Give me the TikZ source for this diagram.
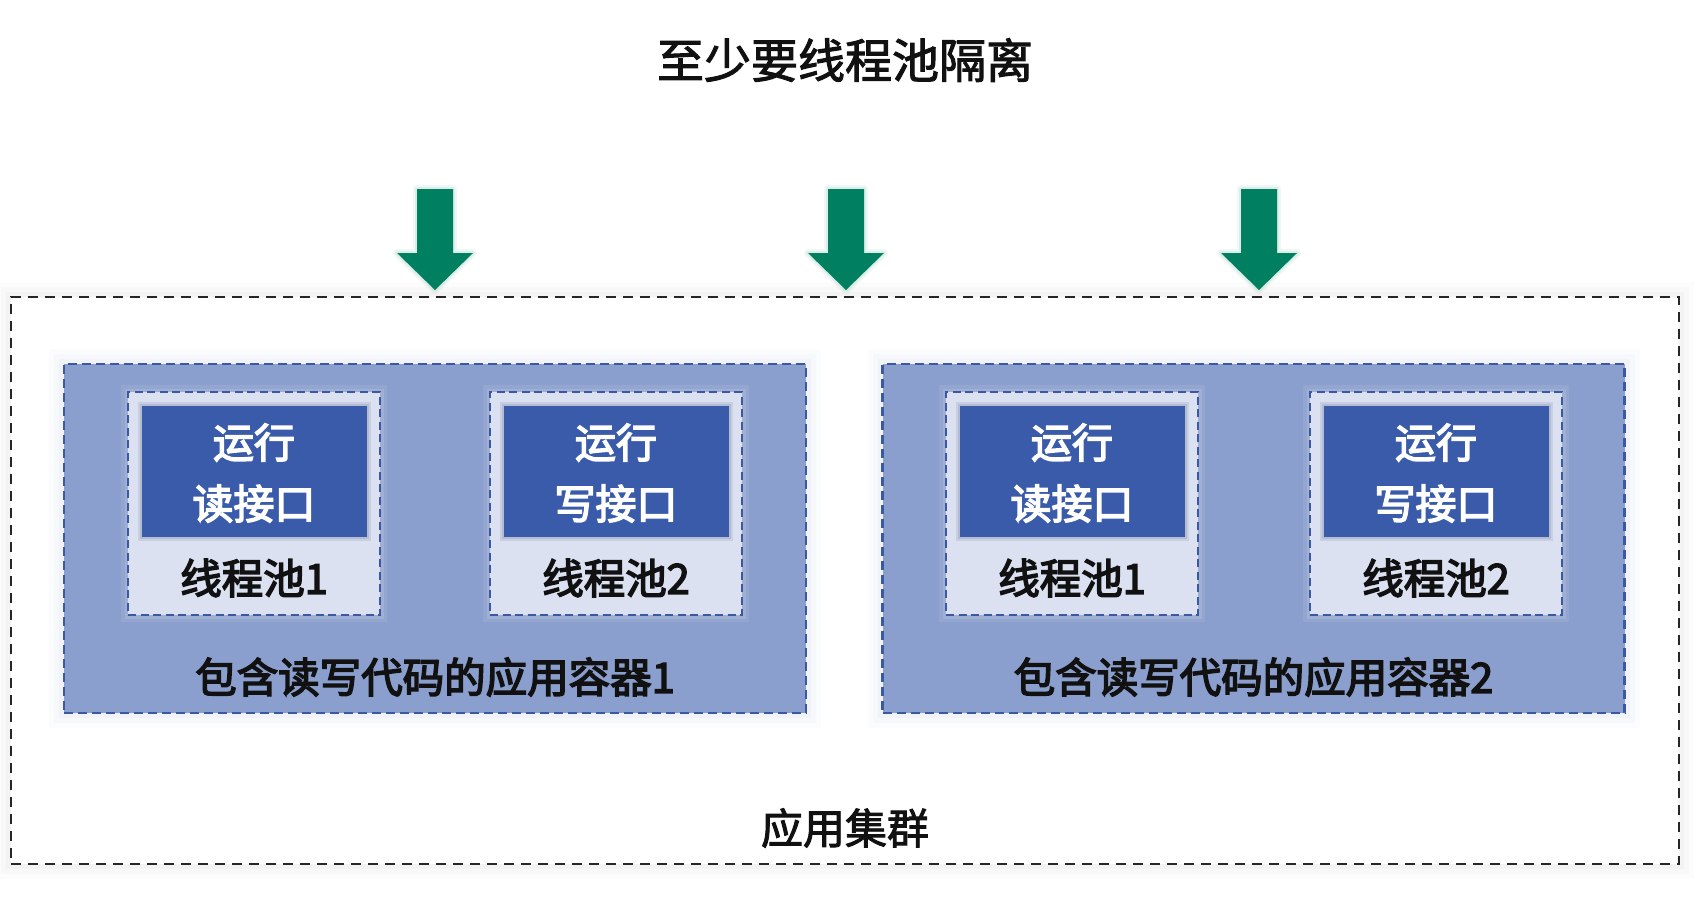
\documentclass[tikz,border=0pt]{standalone}
\usepackage{fontspec}
\newfontfamily\cjk{Noto Sans CJK SC}
\newfontfamily\cjkm{Noto Sans CJK SC}[FakeBold=2.2]
\newfontfamily\cjkb{Noto Sans CJK SC}[FakeBold=3.6]
\usetikzlibrary{positioning}
\definecolor{contfill}{HTML}{8A9FCD}
\definecolor{contline}{HTML}{3B58A3}
\definecolor{poolfill}{HTML}{DCE1F2}
\definecolor{innerfill}{HTML}{3A5BAA}
\definecolor{arrowgreen}{HTML}{008060}
\definecolor{txt}{HTML}{111111}
\tikzset{
  outerbox/.style={draw=black!85, line width=2.8pt, dash pattern=on 10pt off 7pt, minimum width=1668pt, minimum height=567pt, inner sep=0pt},
  contbox/.style={fill=contfill, draw=contline, line width=2.6pt, dash pattern=on 9pt off 5pt, minimum width=742pt, minimum height=349pt, inner sep=0pt},
  poolbox/.style={fill=poolfill, draw=contline, line width=2.3pt, dash pattern=on 8pt off 4.5pt, minimum width=252pt, minimum height=223pt, inner sep=0pt},
  innerbox/.style={fill=innerfill, minimum width=225pt, minimum height=131pt, inner sep=0pt},
  innertext/.style={text=white, align=center, font=\cjkb\fontsize{41}{61}\selectfont},
  lbl/.style={text=txt, font=\cjkb\fontsize{41.5}{48}\selectfont},
  title/.style={text=txt, font=\cjkm\fontsize{47}{54}\selectfont},
  greenarrow/.style={fill=arrowgreen},
}
\begin{document}
\begin{tikzpicture}[x=1pt,y=-1pt]
\useasboundingbox (0,0) rectangle (1697,922);
\fill[white] (0,0) rectangle (1697,922);
% soft shadow around the outer box
\foreach \w/\o in {30/0.012,20/0.015,10/0.02}{
  \draw[black, line width=\w pt, opacity=\o] (11,297) rectangle (1679,864);
}
\fill[white] (11,297) rectangle (1679,864);
\node[title] (title) at (845,60) {至少要线程池隔离};
\node[outerbox] (cluster) at (845,580.5) {};
\node[title, font=\cjkm\fontsize{42}{50}\selectfont] (clusterlbl) at (845,828) {应用集群};
% containers with glow
\foreach \cx in {435,1253.5}{
  \foreach \w/\o in {30/0.04,20/0.05,10/0.07}{
    \draw[contfill!70!white, line width=\w pt, opacity=\o] (\cx-371,364) rectangle (\cx+371,713);
  }
}
\node[contbox] (c1) at (435,538.5) {};
\node[contbox] (c2) at (1253.5,538.5) {};
\node[lbl] (c1lbl) at (435,677) {包含读写代码的应用容器1};
\node[lbl] (c2lbl) at (1253.5,677) {包含读写代码的应用容器2};
% pools
\foreach \cx/\nm/\op/\pn in {254/p1/读/1,616/p2/写/2,1072/p3/读/1,1436/p4/写/2}{
  \foreach \w/\o in {14/0.08,7/0.12}{
    \draw[white, line width=\w pt, opacity=\o] (\cx-126,392) rectangle (\cx+126,615);
  }
  \node[poolbox] (\nm) at (\cx,503.5) {};
  \foreach \w/\o in {8/0.1,4/0.12}{
    \draw[innerfill!60!black, line width=\w pt, opacity=\o] (\cx-112.5,406) rectangle (\cx+112.5,537);
  }
  \node[innerbox] (\nm i) at (\cx,471.5) {};
  \node[innertext] (\nm t) at (\cx,473) {运行\\\op 接口};
  \node[lbl] (\nm l) at (\cx,578) {线程池\pn};
}
% arrows (tip at bottom)
\foreach \cx/\nm in {435/a1,846/a2,1259/a3}{
  \coordinate (\nm) at (\cx,290);
  \foreach \w/\o in {8/0.08,4/0.12}{
    \draw[arrowgreen!70, line width=\w pt, opacity=\o, line join=round]
      ([xshift=-18pt,yshift=101pt]\nm) -- ([xshift=18pt,yshift=101pt]\nm) -- ([xshift=18pt,yshift=37pt]\nm) -- ([xshift=38pt,yshift=37pt]\nm) -- (\nm) -- ([xshift=-38pt,yshift=37pt]\nm) -- ([xshift=-18pt,yshift=37pt]\nm) -- cycle;
  }
  \fill[greenarrow]
    ([xshift=-18pt,yshift=101pt]\nm) -- ([xshift=18pt,yshift=101pt]\nm) -- ([xshift=18pt,yshift=37pt]\nm) -- ([xshift=38pt,yshift=37pt]\nm) -- (\nm) -- ([xshift=-38pt,yshift=37pt]\nm) -- ([xshift=-18pt,yshift=37pt]\nm) -- cycle;
}
\end{tikzpicture}
\end{document}
